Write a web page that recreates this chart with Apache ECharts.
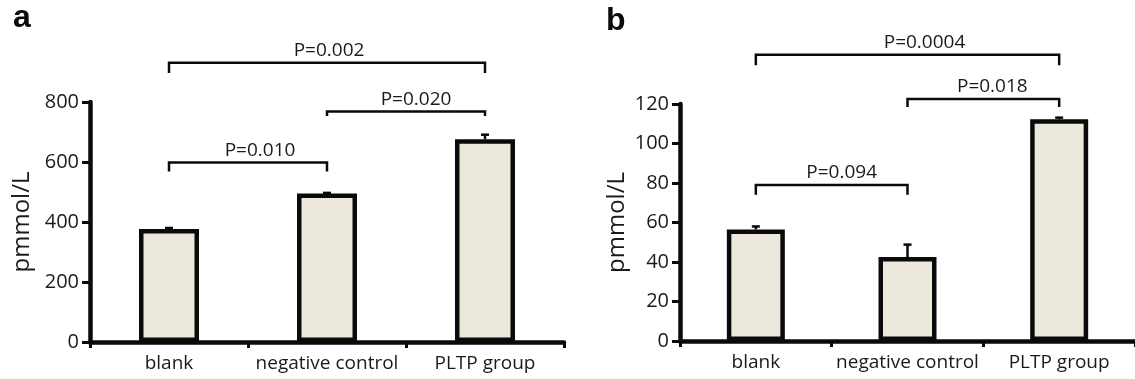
<!DOCTYPE html>
<html><head><meta charset="utf-8">
<script src="https://cdn.jsdelivr.net/npm/echarts@6/dist/echarts.min.js"></script>
<style>html,body{margin:0;padding:0;background:#fff}#c{width:1135px;height:379px}</style>
</head><body><div id="c"></div>
<script>
// ---- data ----
const categories = ['blank', 'negative control', 'PLTP group'];
const valuesA = [377, 495, 676];
const errorsA = [3, 2, 15];
const valuesB = [56.5, 42.5, 112.3];
const errorsB = [1.5, 6.3, 0.8];
const yTicksA = [0, 200, 400, 600, 800];
const yTicksB = [0, 20, 40, 60, 80, 100, 120];
// brackets: [fromIndex, toIndex]
const bracketPairsA = [[0, 1], [1, 2], [0, 2]];
const bracketLevelsA = [598, 768, 931];
const bracketLegEndsA = [568, 753, 897];
const bracketLabelsA = ['P=0.010', 'P=0.020', 'P=0.002'];
const bracketPairsB = [[0, 1], [1, 2], [0, 2]];
const bracketLevelsB = [79, 122.5, 145];
const bracketLegEndsB = [74, 118.5, 139.6];
const bracketLabelsB = ['P=0.094', 'P=0.018', 'P=0.0004'];
const panelLabels = ['a', 'b'];
const yName = 'pmmol/L';

// ---- style ----
const FONT = '"Open Sans", "Noto Sans", sans-serif';
const BAR_FILL = '#ECE9DC';
const INK = '#0a0a0a';
const TXT = '#1a1a1a';
const labelShiftA = [12, 10, 2];
const labelShiftB = [10, 9, 17];

const chart = echarts.init(document.getElementById('c'), null, {renderer: 'canvas'});

function yAxisCfg(gridIndex, ticks, nameGap) {
  return {
    type: 'value', gridIndex,
    min: ticks[0], max: ticks[ticks.length - 1], interval: ticks[1] - ticks[0],
    name: yName, nameLocation: 'middle', nameGap,
    nameTextStyle: {fontFamily: FONT, fontSize: 24, color: TXT},
    axisLine: {show: true, lineStyle: {color: INK, width: 4.5}},
    axisTick: {show: true, length: 8, lineStyle: {color: INK, width: 3}},
    axisLabel: {fontFamily: FONT, fontSize: 20, color: TXT, margin: 11},
    splitLine: {show: false}
  };
}
function xAxisCfg(gridIndex) {
  return {
    type: 'category', gridIndex, data: categories, boundaryGap: true,
    axisLine: {show: true, lineStyle: {color: INK, width: 4.5}},
    axisTick: {show: true, interval: 0, length: 6, lineStyle: {color: INK, width: 3}},
    axisLabel: {fontFamily: FONT, fontSize: 19, color: TXT, margin: 12, interval: 0}
  };
}
function barSeries(idx, values, bw) {
  return {
    type: 'bar', xAxisIndex: idx, yAxisIndex: idx, data: values, barWidth: bw,
    itemStyle: {color: BAR_FILL, borderColor: INK, borderWidth: 4.5},
    z: 2, silent: true
  };
}
function errSeries(idx, values, errs) {
  return {
    type: 'custom', xAxisIndex: idx, yAxisIndex: idx, clip: false, z: 3, silent: true,
    data: values.map((v, i) => [i, v, errs[i]]),
    renderItem: function (params, api) {
      const base = api.coord([api.value(0), api.value(1)]);
      const top = api.coord([api.value(0), api.value(1) + api.value(2)]);
      return {type: 'group', children: [
        {type: 'line', shape: {x1: base[0], y1: base[1], x2: top[0], y2: top[1]}, style: {stroke: INK, lineWidth: 2.5}},
        {type: 'line', shape: {x1: top[0] - 4, y1: top[1], x2: top[0] + 4, y2: top[1]}, style: {stroke: INK, lineWidth: 2.5}}
      ]};
    }
  };
}
function bracketSeries(idx, pairs, levels, legs, labels, shifts) {
  return {
    type: 'custom', xAxisIndex: idx, yAxisIndex: idx, clip: false, z: 4, silent: true,
    data: pairs.map((p, i) => [p[0], p[1], levels[i], legs[i]]),
    renderItem: function (params, api) {
      const a = api.coord([api.value(0), api.value(2)]);
      const b = api.coord([api.value(1), api.value(2)]);
      const leg = api.coord([api.value(0), api.value(3)]);
      const i = params.dataIndex;
      return {type: 'group', children: [
        {type: 'polyline', shape: {points: [[a[0], leg[1]], [a[0], a[1]], [b[0], b[1]], [b[0], leg[1]]]},
         style: {stroke: INK, lineWidth: 2.5, fill: null}},
        {type: 'text', x: (a[0] + b[0]) / 2 + shifts[i], y: a[1] - 3,
         style: {text: labels[i], font: '19px ' + FONT, fill: TXT, align: 'center', verticalAlign: 'bottom'}}
      ]};
    }
  };
}

chart.setOption({
  animation: false,
  grid: [
    {left: 90, top: 102, width: 474, height: 240, containLabel: false},
    {left: 680, top: 104, width: 459, height: 237, containLabel: false}
  ],
  xAxis: [xAxisCfg(0), xAxisCfg(1)],
  yAxis: [yAxisCfg(0, yTicksA, 56), yAxisCfg(1, yTicksB, 51)],
  series: [
    barSeries(0, valuesA, 60),
    barSeries(1, valuesB, 58),
    errSeries(0, valuesA, errorsA),
    errSeries(1, valuesB, errorsB),
    bracketSeries(0, bracketPairsA, bracketLevelsA, bracketLegEndsA, bracketLabelsA, labelShiftA),
    bracketSeries(1, bracketPairsB, bracketLevelsB, bracketLegEndsB, bracketLabelsB, labelShiftB)
  ],
  graphic: [
    {type: 'text', left: 13, top: 2, style: {text: panelLabels[0], font: 'bold 32px "Liberation Sans", Arial, sans-serif', fill: INK}},
    {type: 'text', left: 606, top: 5, style: {text: panelLabels[1], font: 'bold 32px "Liberation Sans", Arial, sans-serif', fill: INK}}
  ]
});
</script>
</body></html>
